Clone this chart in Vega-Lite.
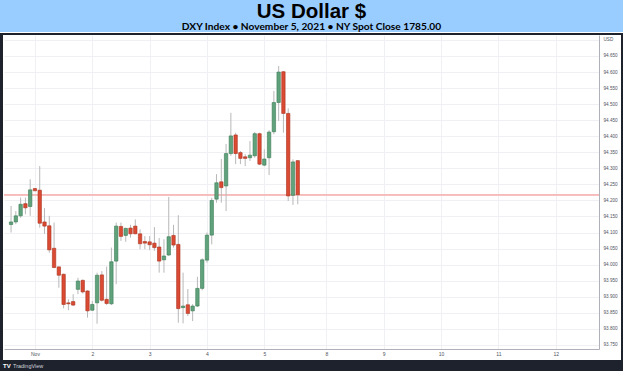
{
  "$schema": "https://vega.github.io/schema/vega-lite/v6.json",
  "background": "#ffffff",
  "padding": 0,
  "spacing": 0,
  "config": {
    "view": {"stroke": null},
    "font": "Liberation Sans",
    "concat": {"spacing": 0}
  },
  "datasets": {
    "candles": [
      {"i": -5, "o": 94.125, "h": 94.183, "l": 94.100, "c": 94.133},
      {"i": -4, "o": 94.133, "h": 94.167, "l": 94.126, "c": 94.152},
      {"i": -3, "o": 94.152, "h": 94.209, "l": 94.146, "c": 94.188},
      {"i": -2, "o": 94.190, "h": 94.209, "l": 94.157, "c": 94.177},
      {"i": -1, "o": 94.181, "h": 94.266, "l": 94.152, "c": 94.233},
      {"i": 0, "o": 94.237, "h": 94.239, "l": 94.229, "c": 94.230},
      {"i": 1, "o": 94.232, "h": 94.307, "l": 94.115, "c": 94.129},
      {"i": 2, "o": 94.133, "h": 94.176, "l": 94.096, "c": 94.120},
      {"i": 3, "o": 94.121, "h": 94.152, "l": 94.037, "c": 94.046},
      {"i": 4, "o": 94.051, "h": 94.131, "l": 93.989, "c": 93.991},
      {"i": 5, "o": 93.993, "h": 93.994, "l": 93.928, "c": 93.967},
      {"i": 6, "o": 93.970, "h": 93.972, "l": 93.864, "c": 93.876},
      {"i": 7, "o": 93.881, "h": 93.892, "l": 93.858, "c": 93.878},
      {"i": 8, "o": 93.885, "h": 93.908, "l": 93.871, "c": 93.874},
      {"i": 9, "o": 93.923, "h": 93.959, "l": 93.908, "c": 93.949},
      {"i": 10, "o": 93.951, "h": 93.954, "l": 93.910, "c": 93.915},
      {"i": 11, "o": 93.918, "h": 93.920, "l": 93.835, "c": 93.856},
      {"i": 12, "o": 93.858, "h": 93.887, "l": 93.856, "c": 93.876},
      {"i": 13, "o": 93.881, "h": 93.975, "l": 93.816, "c": 93.967},
      {"i": 14, "o": 93.968, "h": 93.980, "l": 93.885, "c": 93.889},
      {"i": 15, "o": 93.892, "h": 93.994, "l": 93.874, "c": 93.879},
      {"i": 16, "o": 93.878, "h": 94.053, "l": 93.874, "c": 94.009},
      {"i": 17, "o": 94.011, "h": 94.131, "l": 93.939, "c": 94.120},
      {"i": 18, "o": 94.119, "h": 94.131, "l": 94.074, "c": 94.088},
      {"i": 19, "o": 94.091, "h": 94.115, "l": 94.071, "c": 94.113},
      {"i": 20, "o": 94.114, "h": 94.124, "l": 94.084, "c": 94.096},
      {"i": 21, "o": 94.120, "h": 94.141, "l": 94.095, "c": 94.096},
      {"i": 22, "o": 94.096, "h": 94.110, "l": 94.048, "c": 94.065},
      {"i": 23, "o": 94.072, "h": 94.089, "l": 94.048, "c": 94.067},
      {"i": 24, "o": 94.071, "h": 94.089, "l": 94.045, "c": 94.062},
      {"i": 25, "o": 94.067, "h": 94.117, "l": 94.043, "c": 94.053},
      {"i": 26, "o": 94.055, "h": 94.083, "l": 93.975, "c": 94.011},
      {"i": 27, "o": 94.015, "h": 94.079, "l": 93.975, "c": 94.027},
      {"i": 28, "o": 94.030, "h": 94.211, "l": 94.027, "c": 94.087},
      {"i": 29, "o": 94.091, "h": 94.124, "l": 94.053, "c": 94.061},
      {"i": 30, "o": 94.063, "h": 94.154, "l": 93.819, "c": 93.863},
      {"i": 31, "o": 93.866, "h": 93.975, "l": 93.817, "c": 93.871},
      {"i": 32, "o": 93.875, "h": 93.924, "l": 93.840, "c": 93.848},
      {"i": 33, "o": 93.856, "h": 93.877, "l": 93.824, "c": 93.871},
      {"i": 34, "o": 93.871, "h": 93.962, "l": 93.868, "c": 93.926},
      {"i": 35, "o": 93.926, "h": 94.020, "l": 93.920, "c": 94.015},
      {"i": 36, "o": 94.014, "h": 94.100, "l": 94.006, "c": 94.092},
      {"i": 37, "o": 94.092, "h": 94.208, "l": 94.063, "c": 94.200},
      {"i": 38, "o": 94.204, "h": 94.282, "l": 94.193, "c": 94.255},
      {"i": 39, "o": 94.258, "h": 94.329, "l": 94.193, "c": 94.240},
      {"i": 40, "o": 94.245, "h": 94.376, "l": 94.167, "c": 94.346},
      {"i": 41, "o": 94.346, "h": 94.473, "l": 94.339, "c": 94.401},
      {"i": 42, "o": 94.404, "h": 94.411, "l": 94.313, "c": 94.346},
      {"i": 43, "o": 94.349, "h": 94.354, "l": 94.313, "c": 94.331},
      {"i": 44, "o": 94.336, "h": 94.344, "l": 94.307, "c": 94.331},
      {"i": 45, "o": 94.333, "h": 94.385, "l": 94.323, "c": 94.341},
      {"i": 46, "o": 94.339, "h": 94.413, "l": 94.333, "c": 94.408},
      {"i": 47, "o": 94.408, "h": 94.411, "l": 94.310, "c": 94.313},
      {"i": 48, "o": 94.310, "h": 94.359, "l": 94.307, "c": 94.329},
      {"i": 49, "o": 94.333, "h": 94.419, "l": 94.279, "c": 94.413},
      {"i": 50, "o": 94.414, "h": 94.541, "l": 94.406, "c": 94.505},
      {"i": 51, "o": 94.505, "h": 94.619, "l": 94.448, "c": 94.600},
      {"i": 52, "o": 94.601, "h": 94.603, "l": 94.411, "c": 94.471},
      {"i": 53, "o": 94.471, "h": 94.487, "l": 94.198, "c": 94.214},
      {"i": 54, "o": 94.216, "h": 94.328, "l": 94.186, "c": 94.320},
      {"i": 55, "o": 94.324, "h": 94.326, "l": 94.188, "c": 94.218}
    ]
  },
  "vconcat": [
    {
      "width": 623,
      "height": 32,
      "view": {"fill": "#99ccff", "stroke": null},
      "data": {"values": [{"t": "US Dollar $", "s": "DXY Index • November 5, 2021 • NY Spot Close 1785.00"}]},
      "layer": [
        {
          "mark": {"type": "text", "font": "Liberation Sans", "fontWeight": "bold", "fontSize": 20.5, "color": "#000000", "baseline": "top", "dy": -14.5},
          "encoding": {"text": {"field": "t"}}
        },
        {
          "mark": {"type": "text", "font": "Lato", "fontWeight": "bold", "fontSize": 10.2, "color": "#000000", "baseline": "bottom", "dy": 16},
          "encoding": {"text": {"field": "s"}}
        }
      ]
    },
    {
      "width": 623,
      "height": 2,
      "view": {"fill": "#1e222d", "stroke": null},
      "data": {"values": [{}]},
      "mark": {"type": "text", "fontSize": 1},
      "encoding": {"text": {"value": ""}}
    },
    {
      "hconcat": [
        {
          "width": 3,
          "height": 325,
          "view": {"fill": "#1e222d", "stroke": null},
          "data": {"values": [{}]},
          "mark": {"type": "text", "fontSize": 1},
          "encoding": {"text": {"value": ""}}
        },
        {
          "width": 595,
          "height": 314,
          "data": {"name": "candles"},
          "encoding": {
            "x": {
              "field": "i",
              "type": "quantitative",
              "scale": {"domain": [-5.432, 117.0], "nice": false, "zero": false},
              "axis": {
                "orient": "bottom",
                "title": null,
                "values": [0, 12, 24, 36, 48, 61, 73, 85, 97, 109],
                "labelExpr": "['Nov','2','3','4','5','8','9','10','11','12'][indexof([0,12,24,36,48,61,73,85,97,109], datum.value)]",
                "grid": true,
                "gridColor": "#eef0f4",
                "gridWidth": 1,
                "domain": true,
                "domainColor": "#aeb1b9",
                "ticks": false,
                "tickSize": 0,
                "labelFontSize": 5,
                "labelColor": "#50535e",
                "labelPadding": 2.5,
                "minExtent": 11,
                "maxExtent": 11
              }
            },
            "y": {
              "field": "l",
              "type": "quantitative",
              "scale": {"domain": [93.7372, 94.7154], "nice": false, "zero": false},
              "axis": {
                "orient": "right",
                "title": null,
                "values": [93.75, 93.8, 93.85, 93.9, 93.95, 94.0, 94.05, 94.1, 94.15, 94.2, 94.25, 94.3, 94.35, 94.4, 94.45, 94.5, 94.55, 94.6, 94.65, 94.7],
                "labelExpr": "datum.value > 94.69 ? 'USD' : format(datum.value, '.3f')",
                "grid": true,
                "gridColor": "#eef0f4",
                "gridWidth": 1,
                "domain": true,
                "domainColor": "#aeb1b9",
                "ticks": false,
                "tickSize": 0,
                "labelFontSize": 4.6,
                "labelColor": "#50535e",
                "labelPadding": 4,
                "minExtent": 22,
                "maxExtent": 22
              }
            }
          },
          "layer": [
            {
              "mark": {"type": "rule", "color": "#f6bcbc", "strokeWidth": 1},
              "encoding": {"x": null, "y": {"datum": 94.218, "type": "quantitative"}}
            },
            {
              "mark": {"type": "rule", "color": "#b8b8b8", "strokeWidth": 1},
              "encoding": {"y2": {"field": "h"}}
            },
            {
              "mark": {"type": "bar", "size": 3.4, "strokeWidth": 0.6},
              "encoding": {
                "y": {"field": "o", "type": "quantitative"},
                "y2": {"field": "c"},
                "color": {"condition": {"test": "datum.c >= datum.o", "value": "#5fa27b"}, "value": "#db4a33"},
                "stroke": {"condition": {"test": "datum.c >= datum.o", "value": "#3b7a54"}, "value": "#a9321f"}
              }
            },
            {
              "data": {"values": [{"lbl": "94.218"}]},
              "mark": {"type": "rect", "color": "#e0483a"},
              "encoding": {"x": {"datum": 117.2, "type": "quantitative"}, "x2": {"datum": 121.32}, "y": {"datum": 94.2326, "type": "quantitative"}, "y2": {"datum": 94.2031}}
            },
            {
              "data": {"values": [{"lbl": "94.218"}]},
              "mark": {"type": "text", "color": "#ffffff", "fontSize": 4.6, "fontWeight": "bold", "align": "center", "baseline": "middle"},
              "encoding": {"x": {"datum": 119.26, "type": "quantitative"}, "y": {"datum": 94.218, "type": "quantitative"}, "text": {"field": "lbl", "type": "nominal"}}
            },
            {
              "data": {"values": [{"lbl": "U.S. Dollar Currency Index, 2h, TVC"}]},
              "mark": {"type": "text", "color": "#50535e", "fontSize": 4.4, "align": "left", "baseline": "middle"},
              "encoding": {"x": {"datum": -4.61, "type": "quantitative"}, "y": {"datum": 94.697, "type": "quantitative"}, "text": {"field": "lbl", "type": "nominal"}}
            },
            {
              "data": {"values": [{"lbl": "O94.324 H94.326 L94.188 C94.218 −0.102 (−0.11%)"}]},
              "mark": {"type": "text", "color": "#b5483d", "fontSize": 4.4, "align": "left", "baseline": "middle"},
              "encoding": {"x": {"datum": 11.03, "type": "quantitative"}, "y": {"datum": 94.697, "type": "quantitative"}, "text": {"field": "lbl", "type": "nominal"}}
            }
          ]
        },
        {
          "width": 3,
          "height": 325,
          "view": {"fill": "#1e222d", "stroke": null},
          "data": {"values": [{}]},
          "mark": {"type": "text", "fontSize": 1},
          "encoding": {"text": {"value": ""}}
        }
      ]
    },
    {
      "width": 623,
      "height": 12,
      "view": {"fill": "#1e222d", "stroke": null},
      "data": {"values": [{"logo": "TV", "name": "TradingView"}]},
      "layer": [
        {
          "mark": {"type": "text", "color": "#ffffff", "fontSize": 6, "fontWeight": "bold", "align": "left", "baseline": "middle", "dx": -308.5},
          "encoding": {"text": {"field": "logo"}}
        },
        {
          "mark": {"type": "text", "color": "#d1d4dc", "fontSize": 5.5, "align": "left", "baseline": "middle", "dx": -298.5},
          "encoding": {"text": {"field": "name"}}
        }
      ]
    }
  ]
}
